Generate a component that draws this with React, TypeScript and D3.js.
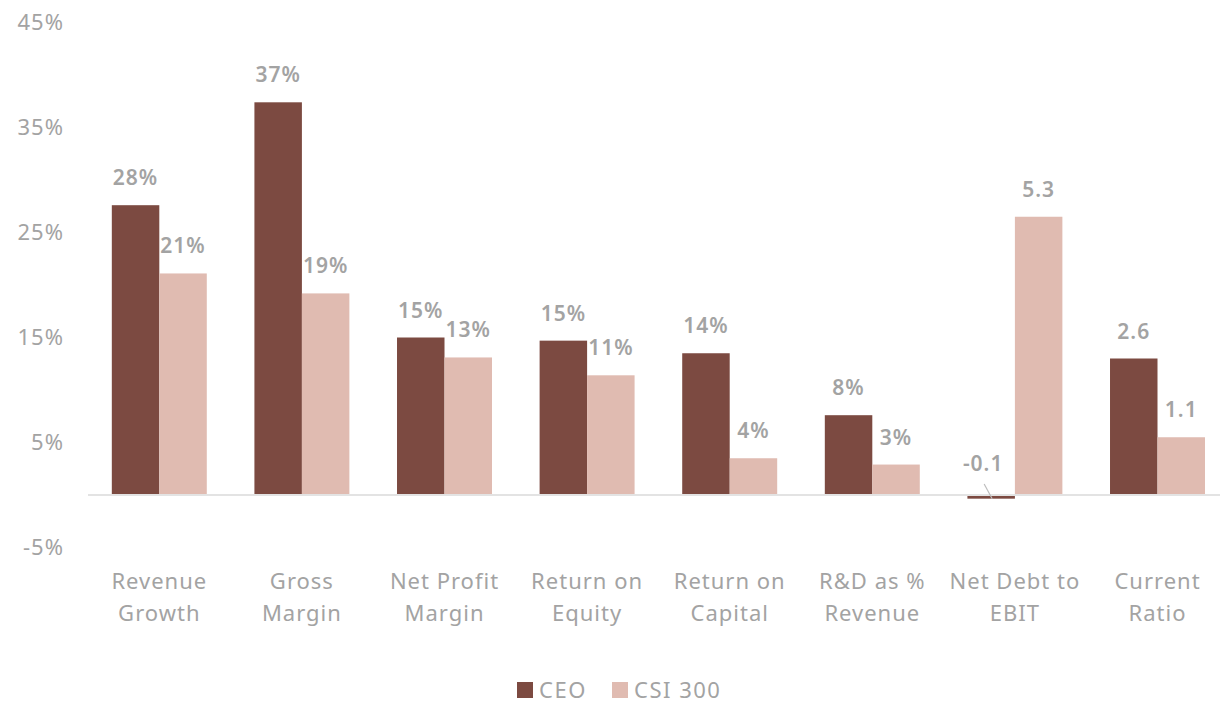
import React from "react";
import * as d3 from "d3";

// categories and values
const categories = [
  ["Revenue", "Growth"],
  ["Gross", "Margin"],
  ["Net Profit", "Margin"],
  ["Return on", "Equity"],
  ["Return on", "Capital"],
  ["R&D as %", "Revenue"],
  ["Net Debt to", "EBIT"],
  ["Current", "Ratio"],
];
// percentages for the first six, raw ratios for the last two
const ceoValues = [27.6, 37.4, 15.0, 14.7, 13.5, 7.6, -0.07, 2.6];
const csiValues = [21.1, 19.2, 13.1, 11.4, 3.5, 2.9, 5.3, 1.1];
const ceoLabels = ["28%", "37%", "15%", "15%", "14%", "8%", "-0.1", "2.6"];
const csiLabels = ["21%", "19%", "13%", "11%", "4%", "3%", "5.3", "1.1"];
const isRatio = [false, false, false, false, false, false, true, true];
const ratioScale = 5; // ratios drawn at 5x on the % axis
const yTicks = [-5, 5, 15, 25, 35, 45];
const seriesNames = ["CEO", "CSI 300"];

const W = 1220;
const H = 704;
const FONT = "'Noto Sans', 'Open Sans', sans-serif";
const GREY = "#a3a3a3";
const COLORS = ["#7c4a41", "#e0bbb1"];

export default function App() {
  const x = d3
    .scaleBand<number>()
    .domain(d3.range(categories.length))
    .range([88, 88 + 142.6 * 8])
    .paddingInner(0.334)
    .paddingOuter(0.167);
  const y = d3.scaleLinear().domain([-5, 45]).range([547.5, 22.5]);
  const sub = d3.scaleBand<number>().domain([0, 1]).range([0, x.bandwidth()]);

  const plotted = (v: number, i: number) => (isRatio[i] ? v * ratioScale : v);
  const series = [ceoValues, csiValues];
  const labels = [ceoLabels, csiLabels];

  return (
    <svg
      width={W}
      height={H}
      style={{ position: "absolute", left: 0, top: 0, background: "#fff" }}
      fontFamily={FONT}
    >
      {yTicks.map((t) => (
        <text
          key={t}
          x={64}
          y={y(t)}
          dy="0.35em"
          textAnchor="end"
          fontSize={22}
          letterSpacing={1}
          fill={GREY}
        >
          {t}%
        </text>
      ))}

      {series.map((vals, s) =>
        vals.map((v, i) => {
          const pv = plotted(v, i);
          const bx = (x(i) ?? 0) + (sub(s) ?? 0);
          return (
            <rect
              key={`${s}-${i}`}
              x={bx}
              y={Math.min(y(pv), y(0))}
              width={sub.bandwidth()}
              height={Math.abs(y(pv) - y(0))}
              fill={COLORS[s]}
            />
          );
        })
      )}

      <line x1={88} x2={W} y1={y(0)} y2={y(0)} stroke="#e3e3e3" strokeWidth={2} />

      {series.map((vals, s) =>
        vals.map((v, i) => {
          const pv = plotted(v, i);
          const cx = (x(i) ?? 0) + (sub(s) ?? 0) + sub.bandwidth() / 2;
          if (pv < 0) {
            // negative value: label lifted above the axis with a leader line
            return (
              <g key={`l${s}-${i}`}>
                <line
                  x1={cx - 7}
                  y1={y(0) - 11}
                  x2={cx + 1}
                  y2={y(pv)}
                  stroke="#bdbdbd"
                  strokeWidth={1.2}
                />
                <text
                  x={cx - 8}
                  y={y(0) - 24}
                  textAnchor="middle"
                  fontSize={21}
                  fontWeight={600}
                  letterSpacing={1}
                  fill={GREY}
                >
                  {labels[s][i]}
                </text>
              </g>
            );
          }
          return (
            <text
              key={`l${s}-${i}`}
              x={cx}
              y={y(pv) - 20}
              textAnchor="middle"
              fontSize={21}
              fontWeight={600}
              letterSpacing={1}
              fill={GREY}
            >
              {labels[s][i]}
            </text>
          );
        })
      )}

      {categories.map((lines, i) => (
        <text
          key={i}
          x={(x(i) ?? 0) + x.bandwidth() / 2}
          y={589}
          textAnchor="middle"
          fontSize={22}
          letterSpacing={1}
          fill={GREY}
        >
          {lines.map((ln, k) => (
            <tspan key={k} x={(x(i) ?? 0) + x.bandwidth() / 2} dy={k === 0 ? 0 : 32}>
              {ln}
            </tspan>
          ))}
        </text>
      ))}

      <g transform="translate(517,682)">
        {seriesNames.map((n, s) => (
          <g key={n} transform={`translate(${s * 95},0)`}>
            <rect width={16} height={16} fill={COLORS[s]} />
            <text x={22} y={8} dy="0.35em" fontSize={22} letterSpacing={1.5} fill={GREY}>
              {n}
            </text>
          </g>
        ))}
      </g>
    </svg>
  );
}
